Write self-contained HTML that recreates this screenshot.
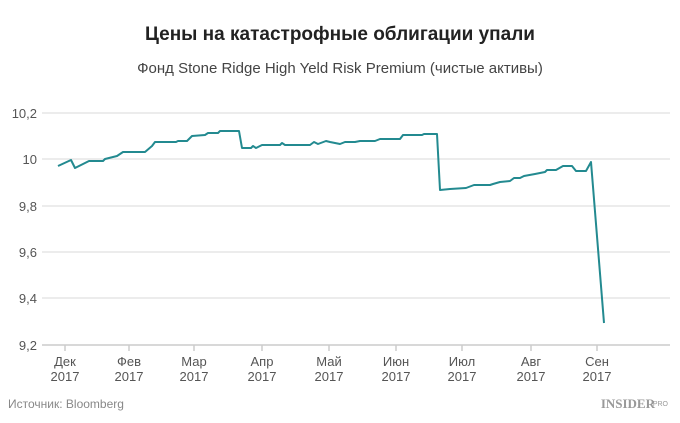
<!DOCTYPE html>
<html><head><meta charset="utf-8"><style>
body{margin:0;background:#fff;width:680px;height:418px;overflow:hidden;font-family:"Liberation Sans",sans-serif}
</style></head><body>
<svg width="680" height="418" xmlns="http://www.w3.org/2000/svg" font-family="Liberation Sans, sans-serif">
<text x="340" y="40" text-anchor="middle" font-size="19" font-weight="bold" fill="#222">Цены на катастрофные облигации упали</text>
<text x="340" y="73" text-anchor="middle" font-size="15" fill="#444">Фонд Stone Ridge High Yeld Risk Premium (чистые активы)</text>
<g stroke="#e6e6e6" stroke-width="1.5">
<line x1="42" y1="113" x2="670" y2="113"/><line x1="42" y1="159" x2="670" y2="159"/>
<line x1="42" y1="206" x2="670" y2="206"/><line x1="42" y1="252" x2="670" y2="252"/>
<line x1="42" y1="298" x2="670" y2="298"/>
</g>
<line x1="42" y1="345" x2="670" y2="345" stroke="#ccc" stroke-width="1.5"/>
<g stroke="#ccc" stroke-width="1.5">
<line x1="65" y1="345" x2="65" y2="351"/><line x1="129" y1="345" x2="129" y2="351"/><line x1="194" y1="345" x2="194" y2="351"/><line x1="262" y1="345" x2="262" y2="351"/><line x1="329" y1="345" x2="329" y2="351"/><line x1="396" y1="345" x2="396" y2="351"/><line x1="462" y1="345" x2="462" y2="351"/><line x1="531" y1="345" x2="531" y2="351"/><line x1="597" y1="345" x2="597" y2="351"/>
</g>
<g font-size="13" fill="#555" text-anchor="end">
<text x="37" y="118">10,2</text><text x="37" y="164">10</text><text x="37" y="211">9,8</text><text x="37" y="257">9,6</text><text x="37" y="303">9,4</text><text x="37" y="350">9,2</text>
</g>
<g font-size="13" fill="#555" text-anchor="middle">
<text x="65" y="366">Дек</text><text x="65" y="381">2017</text>
<text x="129" y="366">Фев</text><text x="129" y="381">2017</text>
<text x="194" y="366">Мар</text><text x="194" y="381">2017</text>
<text x="262" y="366">Апр</text><text x="262" y="381">2017</text>
<text x="329" y="366">Май</text><text x="329" y="381">2017</text>
<text x="396" y="366">Июн</text><text x="396" y="381">2017</text>
<text x="462" y="366">Июл</text><text x="462" y="381">2017</text>
<text x="531" y="366">Авг</text><text x="531" y="381">2017</text>
<text x="597" y="366">Сен</text><text x="597" y="381">2017</text>
</g>
<text x="8" y="408" font-size="12" fill="#888">Источник: Bloomberg</text>
<text x="655" y="408" font-size="13" font-weight="bold" fill="#999" text-anchor="end" font-family="Liberation Serif, serif">INSIDER</text>
<text x="668" y="406" font-size="7" fill="#999" text-anchor="end">PRO</text>
<polyline fill="none" stroke="#238a90" stroke-width="2" stroke-linejoin="round" points="58,166 71,160 75,168 89,161 103,161 105,159 117,156 123,152 145,152 152,146 155,142 176,142 178,141 187,141 192,136 205,135 208,133 218,133 220,131 239,131 242,148 251,148 253,146 256,148 262,145 280,145 282,143 285,145 310,145 314,142 318,144 326,141 330,142 340,144 345,142 355,142 360,141 375,141 380,139 400,139 403,135 422,135 424,134 437,134 440,190 450,189 466,188 474,185 490,185 493,184 500,182 510,181 514,178 520,178 524,176 535,174 545,172 547,170 556,170 563,166 572,166 576,171 586,171 591,162 604,323"/>
</svg>
</body></html>
